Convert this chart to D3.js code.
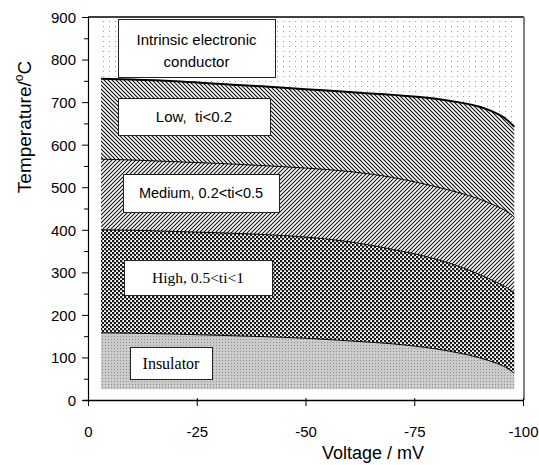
<!DOCTYPE html>
<html lang="en">
<head>
<meta charset="UTF-8">
<title>Conduction regions</title>
<script src="https://d3js.org/d3.v7.min.js"></script>
<style>
    body { margin: 0; background: #fff; }
    svg { display: block; }
    .axis text { font-family: Arial, "Liberation Sans", sans-serif; font-size: 15px; fill: #000; }
    .axis path, .axis line { stroke: #000; }
    .box rect { fill: #fff; stroke: #222; stroke-width: 1; }
    .sans { font-family: Arial, "Liberation Sans", sans-serif; }
    .serif { font-family: "Times New Roman", "Liberation Serif", serif; }
</style>
</head>
<body>
<svg id="chart" width="539" height="465"></svg>
<script>
    // voltage samples (mV) along which the region boundaries were read
    const volts = [-3, -10, -20, -30, -40, -50, -60, -70, -80, -85, -90, -94, -96, -98];
    // boundary temperatures (degC), top to bottom
    const lowTop = [755, 753, 749, 743, 737, 730, 724, 717, 708, 700, 689, 673, 661, 642];
    const lowMed = [566, 564, 560, 556, 551, 545, 537, 523, 501, 488, 472, 455, 445, 430];
    const medHigh = [400, 399, 396, 393, 389, 383, 372, 354, 331, 315, 295, 276, 266, 251];
    const highIns = [158, 157, 155, 152, 149, 145, 139, 132, 120, 111, 99, 86, 77, 63];
    const topT = 900, bottomT = 25;

    const xTicks = [0, -25, -50, -75, -100];
    const yTicks = [0, 100, 200, 300, 400, 500, 600, 700, 800, 900];

    const svg = d3.select("#chart");
    const x = d3.scaleLinear().domain([0, -100]).range([88, 523]);
    const y = d3.scaleLinear().domain([0, 900]).range([400, 17]);

    // fill patterns
    const defs = svg.append("defs");

    const dots = defs.append("pattern").attr("id", "pDots").attr("patternUnits", "userSpaceOnUse")
        .attr("width", 6).attr("height", 5);
    dots.append("rect").attr("x", 1).attr("y", 1).attr("width", 1).attr("height", 1).attr("fill", "#9a9a9a");

    const back = defs.append("pattern").attr("id", "pBack").attr("patternUnits", "userSpaceOnUse")
        .attr("width", 4).attr("height", 4);
    back.append("path").attr("d", "M-1,-1L5,5M-1,3L1,5M3,-1L5,1").attr("stroke", "#111").attr("stroke-width", 1.2);

    const fwd = defs.append("pattern").attr("id", "pFwd").attr("patternUnits", "userSpaceOnUse")
        .attr("width", 4).attr("height", 4);
    fwd.append("path").attr("d", "M-1,5L5,-1M-1,1L1,-1M3,5L5,3").attr("stroke", "#111").attr("stroke-width", 1.1);

    const check = defs.append("pattern").attr("id", "pCheck").attr("patternUnits", "userSpaceOnUse")
        .attr("width", 4).attr("height", 4);
    check.append("rect").attr("width", 4).attr("height", 4).attr("fill", "#fff");
    check.append("rect").attr("x", 0).attr("y", 0).attr("width", 2.3).attr("height", 2.3).attr("fill", "#1a1a1a");
    check.append("rect").attr("x", 2).attr("y", 2).attr("width", 2.3).attr("height", 2.3).attr("fill", "#1a1a1a");

    const grey = defs.append("pattern").attr("id", "pGrey").attr("patternUnits", "userSpaceOnUse")
        .attr("width", 3).attr("height", 3);
    grey.append("rect").attr("width", 3).attr("height", 3).attr("fill", "#cbcbcb");
    grey.append("rect").attr("width", 1).attr("height", 1).attr("fill", "#8c8c8c");

    const rows = volts.map((v, i) => ({
        v: v, top: topT, low: lowTop[i], med: lowMed[i], high: medHigh[i], ins: highIns[i], bot: bottomT
    }));

    const regions = [
        { hi: "top", lo: "low", fill: "url(#pDots)" },
        { hi: "low", lo: "med", fill: "url(#pBack)" },
        { hi: "med", lo: "high", fill: "url(#pFwd)" },
        { hi: "high", lo: "ins", fill: "url(#pCheck)" },
        { hi: "ins", lo: "bot", fill: "url(#pGrey)" }
    ];

    const curve = d3.curveMonotoneX;
    regions.forEach(r => {
        svg.append("path")
            .datum(rows)
            .attr("fill", r.fill)
            .attr("d", d3.area().curve(curve)
                .x(d => x(d.v)).y0(d => y(d[r.lo])).y1(d => y(d[r.hi])));
    });

    // boundary lines
    const bounds = [
        { key: "low", w: 2 },
        { key: "med", w: 1 },
        { key: "high", w: 1 },
        { key: "ins", w: 1 }
    ];
    bounds.forEach(b => {
        svg.append("path")
            .datum(rows)
            .attr("fill", "none")
            .attr("stroke", "#000")
            .attr("stroke-width", b.w)
            .attr("d", d3.line().curve(curve).x(d => x(d.v)).y(d => y(d[b.key])));
    });

    // frame: top black, right grey
    svg.append("line").attr("x1", 88).attr("x2", 524).attr("y1", y(900)).attr("y2", y(900))
        .attr("stroke", "#000").attr("stroke-width", 1.5);
    svg.append("line").attr("x1", 524).attr("x2", 524).attr("y1", y(900)).attr("y2", y(0))
        .attr("stroke", "#808080").attr("stroke-width", 2);

    // axes (plain hyphen minus like the original)
    const fmt = d => String(d);
    const yAxis = svg.append("g").attr("class", "axis").attr("transform", "translate(88,0)")
        .call(d3.axisLeft(y).tickValues(yTicks).tickSize(6).tickPadding(6).tickFormat(fmt));
    yAxis.select(".domain").attr("stroke-width", 1.2);
    yAxis.selectAll(".tick text").attr("dy", "0.36em");
    svg.append("g").attr("class", "axis").attr("transform", "translate(88,0)")
        .call(d3.axisLeft(y).tickValues(d3.range(50, 900, 100)).tickSize(4).tickFormat(""))
        .select(".domain").remove();

    const xAxis = svg.append("g").attr("class", "axis").attr("transform", "translate(0,400)")
        .call(d3.axisBottom(x).tickValues(xTicks).tickSize(6).tickPadding(20).tickFormat(fmt));
    xAxis.select(".domain").attr("stroke-width", 1.5).attr("d", "M83,0.5H524");
    xAxis.selectAll(".tick line").attr("y1", -2);

    // axis titles
    svg.append("text").attr("class", "sans")
        .attr("x", 373).attr("y", 459).attr("text-anchor", "middle")
        .attr("font-size", 18).text("Voltage / mV");

    const yt = svg.append("text").attr("class", "sans")
        .attr("transform", "translate(31,127) rotate(-90)")
        .attr("text-anchor", "middle").attr("font-size", 19);
    yt.append("tspan").text("Temperature/");
    yt.append("tspan").attr("font-size", 12).attr("dy", -8).text("o");
    yt.append("tspan").attr("dy", 8).text("C");

    // region labels
    const labels = [
        { x0: 118, y0: 19, x1: 275, y1: 77, lines: ["Intrinsic electronic", "conductor"], cls: "sans", fs: 15, base: [45, 67] },
        { x0: 118, y0: 98, x1: 270, y1: 135, lines: ["Low,\u00a0 ti<0.2"], cls: "sans", fs: 15, base: [122] },
        { x0: 123, y0: 174, x1: 279, y1: 212, lines: ["Medium, 0.2<ti<0.5"], cls: "sans", fs: 14.5, base: [198] },
        { x0: 124, y0: 260, x1: 272, y1: 295, lines: ["High, 0.5<ti<1"], cls: "serif", fs: 15.5, base: [283] },
        { x0: 130, y0: 347, x1: 212, y1: 379, lines: ["Insulator"], cls: "serif", fs: 16, base: [369] }
    ];
    labels.forEach(l => {
        const g = svg.append("g").attr("class", "box");
        g.append("rect").attr("x", l.x0 + 0.5).attr("y", l.y0 + 0.5)
            .attr("width", l.x1 - l.x0).attr("height", l.y1 - l.y0);
        l.lines.forEach((t, i) => {
            g.append("text").attr("class", l.cls)
                .attr("x", (l.x0 + l.x1) / 2).attr("y", l.base[i])
                .attr("text-anchor", "middle").attr("font-size", l.fs).text(t);
        });
    });
</script>
</body>
</html>
